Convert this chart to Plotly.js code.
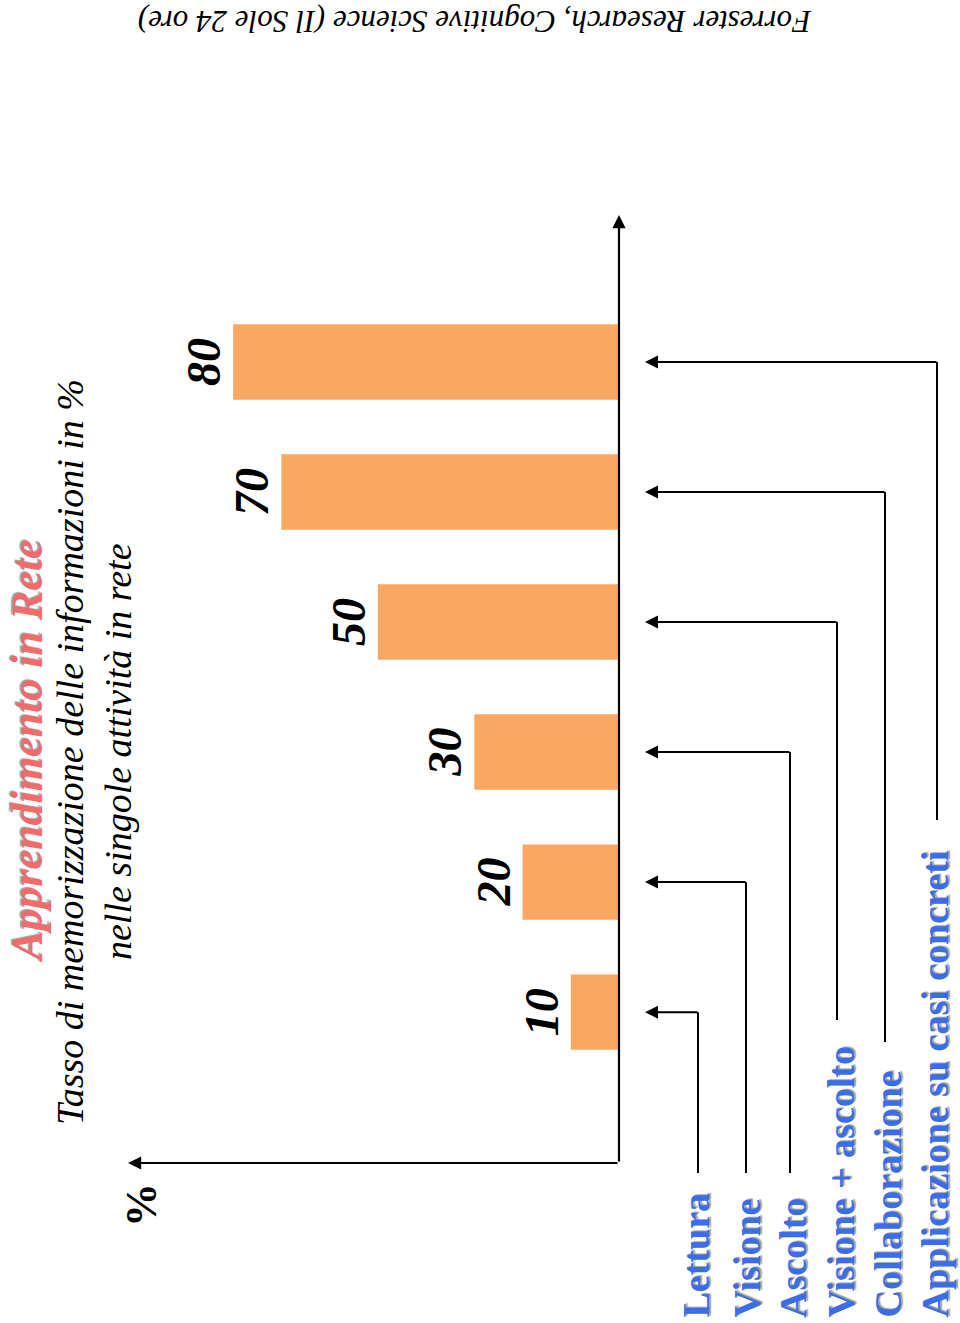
<!DOCTYPE html>
<html>
<head>
<meta charset="utf-8">
<script src="https://cdn.plot.ly/plotly-3.0.1.min.js"></script>
<style>html,body{margin:0;padding:0;background:#fff;}#chart{width:960px;height:1323px;}</style>
</head>
<body>
<div id="chart"></div>
<script>
// ---- data ----
const categories = ['Lettura', 'Visione', 'Ascolto', 'Visione + ascolto', 'Collaborazione', 'Applicazione su casi concreti'];
const values = [10, 20, 30, 50, 70, 80];
const titleText = 'Apprendimento in Rete';
const subtitleLine1 = 'Tasso di memorizzazione delle informazioni in %';
const subtitleLine2 = 'nelle singole attività in rete';
const sourceText = 'Forrester Research, Cognitive Science (Il Sole 24 ore)';
const unitLabel = '%';

// ---- layout geometry (pixels) ----
const W = 960, H = 1323;
const PL = 128, PR = 619, PT = 215, PB = 1163;
const X_RANGE = [101.8, 0];
const Y_RANGE = [-1.16, 6.13];
const labelX = [695, 746, 793, 840, 887, 934];
const connectorX = [698, 746, 790, 837, 885, 937];
const connectorBottom = [1173, 1173, 1173, 1020, 1042, 820];
const arrowTipX = 645;

const px = p => (p - PL) / (PR - PL);
const py = p => (PB - p) / (PB - PT);
const catY = i => (i - Y_RANGE[0]) / (Y_RANGE[1] - Y_RANGE[0]);

const serif = 'Liberation Serif, Times New Roman, serif';

const trace = {
  type: 'bar',
  orientation: 'h',
  x: values,
  y: categories,
  width: 0.58,
  marker: {color: '#f9a862', line: {width: 0}},
  text: values.map(String),
  textposition: 'outside',
  textangle: -90,
  constraintext: 'none',
  cliponaxis: false,
  textfont: {family: serif, size: 48, color: '#000', weight: 'bold', style: 'italic'},
  hoverinfo: 'skip'
};

const annotations = [];
const shapes = [];

// axes arrows
annotations.push({xref: 'paper', yref: 'paper', x: 0, y: 0, ax: PR - PL, ay: 0, text: '',
  showarrow: true, arrowhead: 2, arrowsize: 1.2, arrowwidth: 2.2, arrowcolor: '#000'});
annotations.push({xref: 'paper', yref: 'paper', x: 1, y: 1, ax: 0, ay: PB - PT, text: '',
  showarrow: true, arrowhead: 2, arrowsize: 1.2, arrowwidth: 2.2, arrowcolor: '#000'});

// category labels and connectors
categories.forEach((c, i) => {
  annotations.push({xref: 'paper', yref: 'paper', x: px(labelX[i]), y: py(1320),
    xanchor: 'center', yanchor: 'bottom', textangle: -90, showarrow: false, text: c,
    font: {family: serif, size: 38, color: '#3b6de6', weight: 'bold', shadow: '1px 2px 1px #a0a0a0'}});
  shapes.push({type: 'line', xref: 'paper', yref: 'paper',
    x0: px(connectorX[i]), x1: px(connectorX[i]), y0: catY(i), y1: py(connectorBottom[i]),
    line: {color: '#000', width: 2}});
  annotations.push({xref: 'paper', yref: 'paper', x: px(arrowTipX), y: catY(i),
    ax: connectorX[i] - arrowTipX + 1, ay: 0, text: '', showarrow: true,
    arrowhead: 2, arrowsize: 1.3, arrowwidth: 2, arrowcolor: '#000'});
});

function centered(xPix, yPix, angle, text, font) {
  return {xref: 'paper', yref: 'paper', x: px(xPix), y: py(yPix), xanchor: 'center', yanchor: 'middle',
    textangle: angle, showarrow: false, text: text, font: font};
}

// titles
annotations.push(centered(27, 752, -90, titleText,
  {family: serif, size: 44, color: '#f26a6a', weight: 'bold', style: 'italic', shadow: '1px -2px 1px #a0a0a0'}));
annotations.push(centered(70, 752, -90, subtitleLine1, {family: serif, size: 38, color: '#000', style: 'italic'}));
annotations.push(centered(118, 752, -90, subtitleLine2, {family: serif, size: 38, color: '#000', style: 'italic'}));
annotations.push(centered(141, 1205, -90, unitLabel, {family: serif, size: 44, color: '#000', weight: 'bold'}));
annotations.push(centered(475, 21, 180, sourceText, {family: serif, size: 31, color: '#000', style: 'italic'}));

const layout = {
  width: W, height: H,
  margin: {l: PL, r: W - PR, t: PT, b: H - PB, pad: 0},
  paper_bgcolor: '#fff', plot_bgcolor: '#fff',
  showlegend: false,
  xaxis: {range: X_RANGE, showgrid: false, zeroline: false, showline: false, showticklabels: false, ticks: '', fixedrange: true},
  yaxis: {type: 'category', range: Y_RANGE, showgrid: false, zeroline: false, showline: false, showticklabels: false, ticks: '', fixedrange: true},
  annotations: annotations,
  shapes: shapes
};

Plotly.newPlot('chart', [trace], layout, {displayModeBar: false, staticPlot: true});
</script>
</body>
</html>
